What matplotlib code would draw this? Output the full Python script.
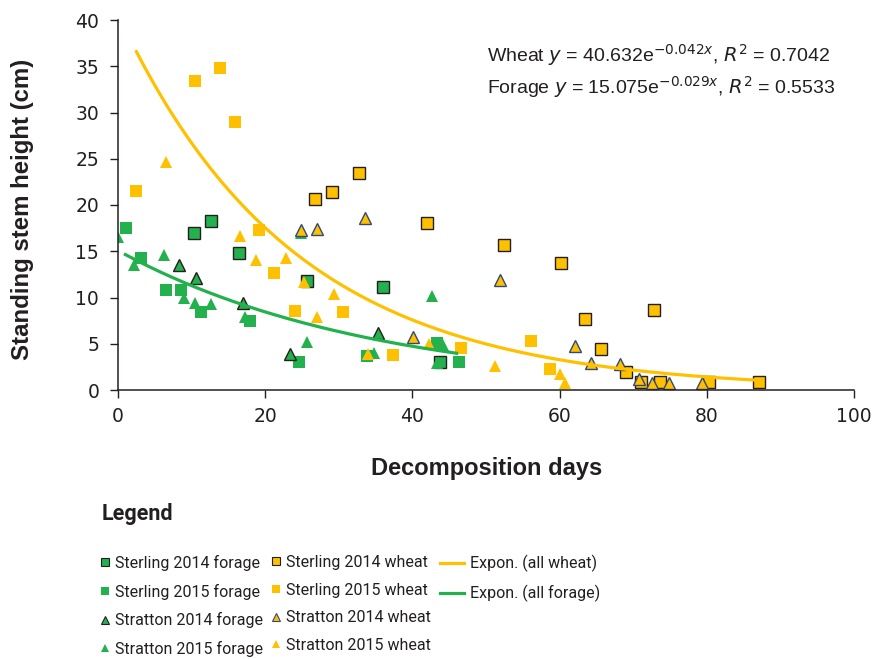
import matplotlib
matplotlib.use('Agg')
import matplotlib.pyplot as plt
from matplotlib.lines import Line2D
import numpy as np

# ---------------- data ----------------
sterling14_forage_x = [10.3, 12.65, 16.4, 25.7, 36.0, 43.7]
sterling14_forage_y = [17.0, 18.3, 14.8, 11.8, 11.1, 3.0]
sterling15_forage_x = [1.1, 3.1, 6.5, 8.5, 11.3, 17.9, 24.6, 33.8, 43.4, 46.3]
sterling15_forage_y = [17.5, 14.3, 10.85, 10.8, 8.4, 7.45, 3.0, 3.7, 5.1, 3.0]
stratton14_forage_x = [8.3, 10.6, 17.0, 23.4, 35.3]
stratton14_forage_y = [13.5, 12.1, 9.4, 3.9, 6.2]
stratton15_forage_x = [0.0, 2.2, 6.3, 8.9, 10.5, 12.7, 17.3, 24.8, 25.7, 34.8, 42.6, 44.2, 43.4]
stratton15_forage_y = [16.5, 13.5, 14.6, 9.9, 9.4, 9.3, 7.9, 17.0, 5.2, 4.0, 10.2, 4.9, 2.95]
sterling14_wheat_x = [26.7, 29.1, 32.7, 42.0, 52.4, 60.2, 63.5, 72.8, 65.6, 69.0, 71.1, 73.7, 80.3, 87.1]
sterling14_wheat_y = [20.6, 21.4, 23.5, 18.1, 15.7, 13.7, 7.7, 8.6, 4.4, 2.0, 0.9, 0.9, 0.9, 0.9]
sterling15_wheat_x = [2.5, 10.4, 13.8, 15.9, 19.1, 21.2, 24.0, 30.6, 37.3, 46.6, 56.1, 58.7]
sterling15_wheat_y = [21.5, 33.4, 34.8, 29.0, 17.3, 12.7, 8.5, 8.4, 3.8, 4.5, 5.3, 2.3]
stratton14_wheat_x = [24.9, 27.1, 33.6, 51.9, 40.1, 62.1, 64.2, 68.2, 70.8, 72.5, 74.8, 79.4]
stratton14_wheat_y = [17.3, 17.4, 18.6, 11.9, 5.7, 4.8, 2.95, 2.8, 1.2, 0.8, 0.8, 0.8]
stratton15_wheat_x = [6.5, 16.6, 18.8, 22.8, 25.3, 29.3, 27.0, 34.0, 42.3, 51.2, 60.0, 60.7]
stratton15_wheat_y = [24.7, 16.6, 14.05, 14.3, 11.7, 10.4, 7.9, 3.9, 5.0, 2.6, 1.7, 0.8]

# exponential trendlines (coefficients as printed on chart)
wheat_a, wheat_b, wheat_range = 40.632, -0.042, (2.5, 86.7)
forage_a, forage_b, forage_range = 15.075, -0.029, (1.0, 46.0)

series_labels = ['Sterling 2014 forage', 'Sterling 2015 forage', 'Stratton 2014 forage',
                 'Stratton 2015 forage', 'Sterling 2014 wheat', 'Sterling 2015 wheat',
                 'Stratton 2014 wheat', 'Stratton 2015 wheat']
trend_labels = ['Expon. (all wheat)', 'Expon. (all forage)']
x_ticks = [0, 20, 40, 60, 80, 100]
y_ticks = [0, 5, 10, 15, 20, 25, 30, 35, 40]

# ---------------- style ----------------
GREEN = '#22b14c'
GOLD = '#ffc000'
DARK = '#231f20'
BLUE_EDGE = '#2e4a7d'
TXT = '#231f20'

plt.rcParams['font.family'] = ['Roboto', 'Liberation Sans', 'DejaVu Sans']

W, H = 886, 659
fig = plt.figure(figsize=(W / 100, H / 100), dpi=100)
L, R, T, B = 118, 854, 20, 390
ax = fig.add_axes([L / W, 1 - B / H, (R - L) / W, (B - T) / H])

styles = [
    (sterling14_forage_x, sterling14_forage_y, 's', GREEN, DARK, 1.0),
    (sterling15_forage_x, sterling15_forage_y, 's', GREEN, 'none', 0),
    (stratton14_forage_x, stratton14_forage_y, '^', GREEN, DARK, 1.0),
    (stratton15_forage_x, stratton15_forage_y, '^', GREEN, 'none', 0),
    (sterling14_wheat_x, sterling14_wheat_y, 's', GOLD, DARK, 1.0),
    (sterling15_wheat_x, sterling15_wheat_y, 's', GOLD, 'none', 0),
    (stratton14_wheat_x, stratton14_wheat_y, '^', GOLD, BLUE_EDGE, 1.0),
    (stratton15_wheat_x, stratton15_wheat_y, '^', GOLD, 'none', 0),
]
handles = []
for (xs, ys, m, fc, ec, ew), lab in zip(styles, series_labels):
    ms = 8.0 if m == 's' else 8.5
    ax.plot(xs, ys, linestyle='none', marker=m, markersize=ms, markerfacecolor=fc,
            markeredgecolor=ec, markeredgewidth=ew, zorder=2)
    handles.append(Line2D([], [], linestyle='none', marker=m, markersize=5.5 if m == 's' else 6,
                          markerfacecolor=fc, markeredgecolor=ec, markeredgewidth=ew * 0.8,
                          label=lab))

xw = np.linspace(*wheat_range, 200)
ax.plot(xw, wheat_a * np.exp(wheat_b * xw), color=GOLD, lw=2.3, zorder=3)
xf = np.linspace(*forage_range, 200)
ax.plot(xf, forage_a * np.exp(forage_b * xf), color=GREEN, lw=2.3, zorder=3)

ax.set_xlim(0, 100)
ax.set_ylim(0, 40)
ax.set_xticks(x_ticks)
ax.set_yticks(y_ticks)
ax.set_xticklabels([str(v) for v in x_ticks], family='DejaVu Sans')
ax.set_yticklabels([str(v) for v in y_ticks], family='DejaVu Sans')
for s in ['top', 'right']:
    ax.spines[s].set_visible(False)
for s in ['left', 'bottom']:
    ax.spines[s].set_linewidth(1.1)
    ax.spines[s].set_color(DARK)
ax.tick_params(axis='both', direction='out', length=5.5, width=1.0, color=DARK,
               labelsize=13.5, labelcolor=TXT)
ax.tick_params(axis='y', pad=8)
ax.tick_params(axis='x', pad=7)

ax.set_xlabel('Decomposition days', fontsize=17, fontweight='bold', color=TXT,
              family=['Liberation Sans', 'DejaVu Sans'], va='center')
ax.xaxis.set_label_coords((487 - L) / (R - L), (B - 468) / (B - T))
ax.set_ylabel('Standing stem height (cm)', fontsize=17.3, fontweight='bold', color=TXT,
              family=['Liberation Sans', 'DejaVu Sans'], va='center')
ax.yaxis.set_label_coords((23 - L) / (R - L), (B - 209) / (B - T))

# equations
eq_font = ['Liberation Sans', 'DejaVu Sans']
fig.text(487 / W, 1 - 55 / H, r'Wheat $y$ = 40.632e$^{-0.042x}$, $R^2$ = 0.7042',
         fontsize=14, color=TXT, ha='left', va='center', family=eq_font)
fig.text(487 / W, 1 - 87 / H, r'Forage $y$ = 15.075e$^{-0.029x}$, $R^2$ = 0.5533',
         fontsize=14, color=TXT, ha='left', va='center', family=eq_font)

# legend
fig.text(102 / W, 1 - 514 / H, 'Legend', fontsize=15.5, fontweight='bold', color=TXT,
         ha='left', va='center')

fs = 11.5
common = dict(frameon=False, fontsize=fs, borderpad=0, borderaxespad=0, labelspacing=0.79,
              labelcolor=TXT, loc='upper left')
leg1 = fig.legend(handles=handles[:4], handlelength=0.6, handletextpad=0.33,
                  bbox_to_anchor=(100.2 / W, 1 - 555 / H), **common)
leg2 = fig.legend(handles=handles[4:], handlelength=0.6, handletextpad=0.33,
                  bbox_to_anchor=(271.2 / W, 1 - 555 / H), **common)
trend_handles = [Line2D([], [], color=GOLD, lw=2.3, label=trend_labels[0]),
                 Line2D([], [], color=GREEN, lw=2.3, label=trend_labels[1])]
leg3 = fig.legend(handles=trend_handles, handlelength=1.5, handletextpad=0.38,
                  bbox_to_anchor=(440 / W, 1 - 555 / H), **common)

fig.savefig('out.png', dpi=100)
